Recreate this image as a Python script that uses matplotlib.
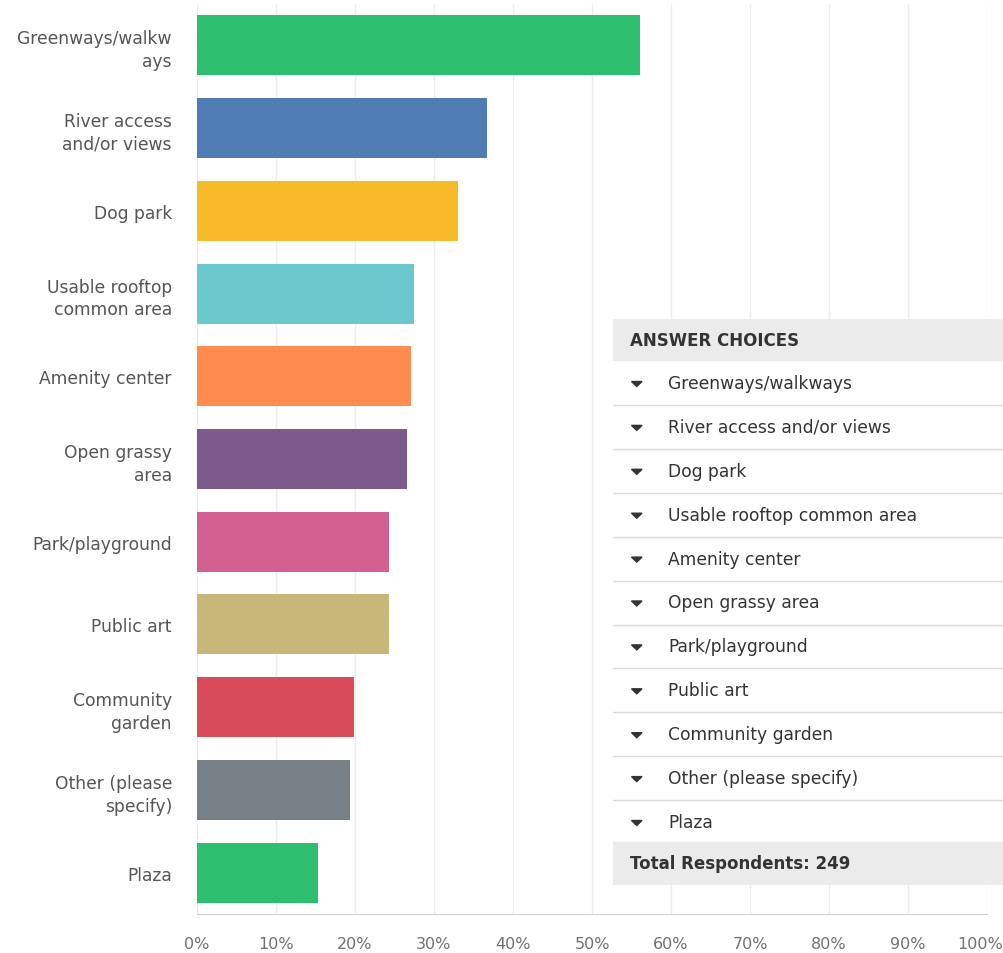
import numpy as np
import matplotlib.pyplot as plt
import matplotlib.transforms as mtransforms
from matplotlib.patches import Rectangle, Polygon

plt.rcParams['font.family'] = ['DejaVu Sans']

# dane z wykresu (procent respondentow)
kategorie = ["Greenways/walkways", "River access and/or views", "Dog park",
             "Usable rooftop common area", "Amenity center", "Open grassy area",
             "Park/playground", "Public art", "Community garden",
             "Other (please specify)", "Plaza"]
etykiety_osi = ["Greenways/walkw\nays", "River access\nand/or views", "Dog park",
                "Usable rooftop\ncommon area", "Amenity center", "Open grassy\narea",
                "Park/playground", "Public art", "Community\ngarden",
                "Other (please\nspecify)", "Plaza"]
procenty = [56.1, 36.7, 33.0, 27.5, 27.1, 26.6, 24.3, 24.3, 19.9, 19.4, 15.3]
kolory = ["#2dbe6f", "#507cb6", "#f7bb2a", "#6bc8cd", "#ff8b4f", "#7d5a8c",
          "#d25f90", "#c7b879", "#d84b5a", "#768086", "#2dbe6f"]
ticki = [0, 10, 20, 30, 40, 50, 60, 70, 80, 90, 100]
razem = 249

W, H = 1004, 954
fig = plt.figure(figsize=(W / 100, H / 100), dpi=100)
ax = fig.add_axes([197 / W, 1 - 915 / H, 790 / W, 910 / H])

y = np.arange(len(kategorie))
ax.barh(y, procenty, height=0.726, color=kolory, zorder=3)
ax.set_ylim(len(kategorie) - 0.5, -0.5)
ax.set_xlim(0, 100)
ax.set_xticks(ticki)
ax.set_xticklabels([f"{t}%" for t in ticki], color="#707070", fontsize=11.5)
ax.set_yticks(y)
ax.set_yticklabels(etykiety_osi, color="#555555", fontsize=12.3, linespacing=1.35)
ax.tick_params(axis='both', length=0)
ax.tick_params(axis='y', pad=18)
ax.tick_params(axis='x', pad=16)
ax.grid(axis='x', color="#ececec", linewidth=1, zorder=0)
for s in ['top', 'right', 'left']:
    ax.spines[s].set_visible(False)
ax.spines['bottom'].set_color("#d0d0d0")

# ostatnia etykieta troche w lewo, zeby sie miescila
ostatnia = ax.get_xticklabels()[-1]
ostatnia.set_transform(mtransforms.offset_copy(ostatnia.get_transform(), fig, x=-7, units='dots'))

# tabela z odpowiedziami
tab = fig.add_axes([613 / W, 1 - 886 / H, 391 / W, 566 / H])
tab.set_xlim(0, 391)
tab.set_ylim(886, 320)
tab.axis('off')
tab.add_patch(Rectangle((0, 320), 391, 566, color="white", zorder=0))
tab.add_patch(Rectangle((0, 320), 391, 41, color="#ebebeb", zorder=1))
tab.text(17, 341, "ANSWER CHOICES", fontsize=12, fontweight='bold',
         color="#333333", va='center', zorder=2)
for i, k in enumerate(kategorie):
    yc = 384 + i * 43.9
    tab.add_patch(Polygon([(18.5, yc - 1.5), (29, yc - 1.5), (23.75, yc + 3.5)],
                          closed=True, color="#333333", zorder=2))
    tab.text(55, yc, k, fontsize=12.3, color="#333333", va='center', zorder=2)
    if i < len(kategorie) - 1:
        tab.plot([0, 391], [yc + 22, yc + 22], color="#d9d9d9", lw=1, zorder=2)
tab.add_patch(Rectangle((0, 843), 391, 42, color="#ebebeb", zorder=1))
tab.text(17, 864, f"Total Respondents: {razem}", fontsize=12, fontweight='bold',
         color="#333333", va='center', zorder=2)

fig.savefig("out.png", dpi=100)
